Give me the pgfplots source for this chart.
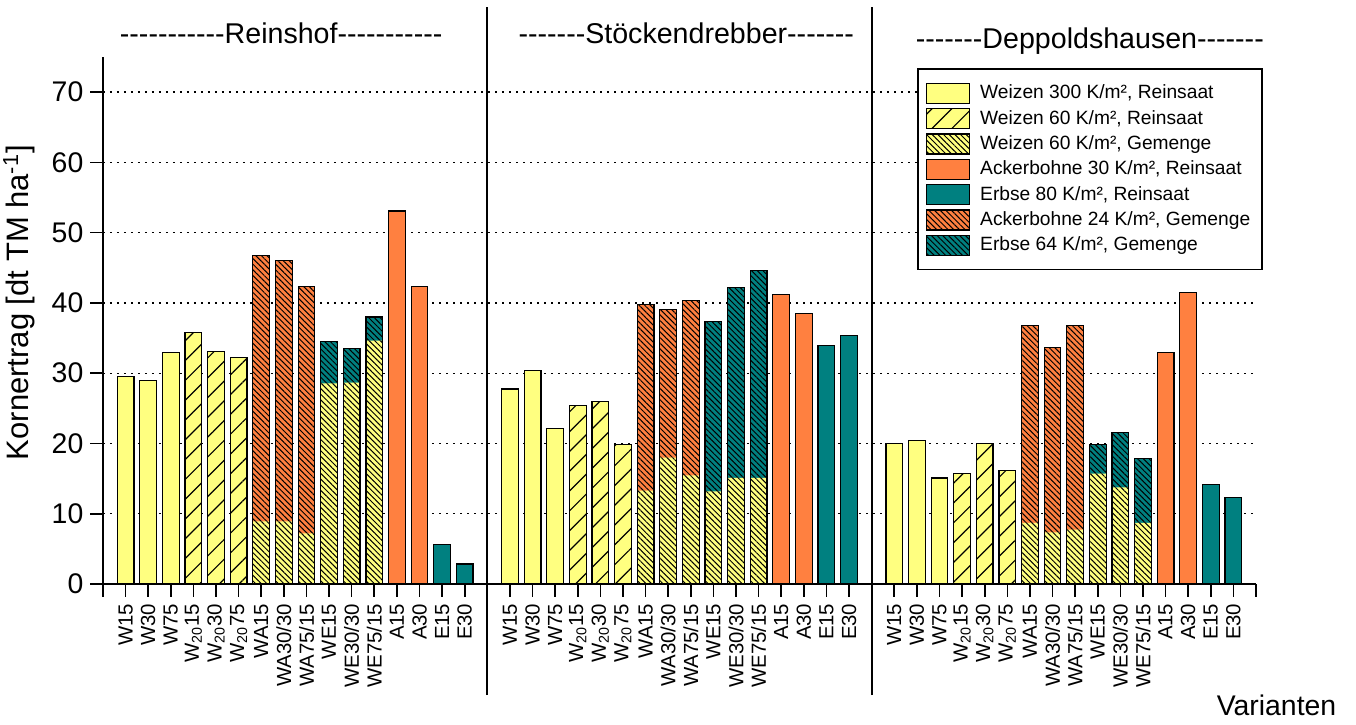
\documentclass[border=0pt]{standalone}
\usepackage{pgfplots}
\pgfplotsset{compat=1.18}
\usepackage{pgfplotstable}
\usepackage{fontspec}
\setmainfont{Liberation Sans}
\newfontfamily\titlefont{Liberation Sans}[Ligatures=TeXOff]
\usetikzlibrary{patterns.meta}

\definecolor{wheat}{RGB}{255,255,128}
\definecolor{bean}{RGB}{255,128,64}
\definecolor{pea}{RGB}{0,128,128}

% x positions: Reinshof 0-15, Stoeckendrebber 17-32, Deppoldshausen 34-49
\pgfplotstableread{
x y
0 29.5
1 29.0
2 32.9
17 27.75
18 30.4
19 22.15
34 19.95
35 20.4
36 15.1
}\wdreihundert
\pgfplotstableread{
x y
3 35.85
4 33.05
5 32.25
20 25.4
21 25.95
22 19.9
37 15.7
38 20.0
39 16.1
}\wsechzig
% wheat share in the mixtures (lower part of the bar)
\pgfplotstableread{
x y
6 8.9
7 8.9
8 7.2
9 28.55
10 28.65
11 34.65
23 13.3
24 18.0
25 15.45
26 13.2
27 15.1
28 15.1
40 8.7
41 7.35
42 7.75
43 15.7
44 13.75
45 8.7
}\wgemenge
\pgfplotstableread{
x y
12 53.1
13 42.3
29 41.25
30 38.45
46 33.0
47 41.5
}\abrein
\pgfplotstableread{
x y
14 5.65
15 2.85
31 33.95
32 35.4
48 14.15
49 12.35
}\erein
% mixtures: total bar height
\pgfplotstableread{
x y
6 46.8
7 46.0
8 42.3
23 39.75
24 39.1
25 40.4
40 36.8
41 33.65
42 36.8
}\abgemenge
\pgfplotstableread{
x y
9 34.5
10 33.5
11 38.0
26 37.4
27 42.2
28 44.6
43 19.9
44 21.6
45 17.9
}\egemenge

\newcommand{\legbox}[1]{\addlegendimage{legend image code/.code={\draw[#1] (0pt,-5pt) rectangle (21.5pt,5pt); \path (24.5pt,0pt);}}}

\begin{document}
\begin{tikzpicture}[
  dense/.style={postaction={pattern={Lines[angle=-45,distance=2pt,line width=0.5pt]},pattern color=black}},
  sparse/.style={postaction={pattern={Lines[angle=45,distance=7pt,line width=0.6pt]},pattern color=black}}
  ]
\begin{axis}[
  name=ax,
  scale only axis,
  width=576.5pt, height=263.5pt,
  xmin=-1, xmax=50, ymin=0, ymax=75,
  axis x line=bottom, axis y line=left,
  axis line style={-, line width=1pt},
  tick align=outside, major tick length=6.3pt,
  tick style={black, line width=0.8pt},
  xtick={-1,...,50},
  xticklabels={,W15,W30,W75,{W\textsubscript{20}15},{W\textsubscript{20}30},{W\textsubscript{20}75},WA15,WA30/30,WA75/15,WE15,WE30/30,WE75/15,A15,A30,E15,E30,
    ,W15,W30,W75,{W\textsubscript{20}15},{W\textsubscript{20}30},{W\textsubscript{20}75},WA15,WA30/30,WA75/15,WE15,WE30/30,WE75/15,A15,A30,E15,E30,
    ,W15,W30,W75,{W\textsubscript{20}15},{W\textsubscript{20}30},{W\textsubscript{20}75},WA15,WA30/30,WA75/15,WE15,WE30/30,WE75/15,A15,A30,E15,E30,},
  xticklabel style={rotate=90, anchor=east, font=\fontsize{10.2}{12}\selectfont},
  ytick={0,10,...,70},
  yticklabel style={font=\fontsize{14.2}{16}\selectfont},
  /pgf/number format/assume math mode=true,
  ymajorgrids,
  major grid style={black, line width=0.7pt, dash pattern=on 0.9pt off 2.6pt},
  ylabel={Kornertrag [dt TM ha\textsuperscript{-1}]},
  ylabel style={at={(axis description cs:-0.0529,0.534)}, anchor=south, font=\fontsize{15.5}{18}\selectfont},
  xlabel={Varianten},
  xlabel style={at={(axis description cs:1.0178,-0.2486)}, anchor=base, font=\fontsize{14.2}{17}\selectfont},
  legend style={at={(axis description cs:0.706,0.979)}, anchor=north west,
    draw=black, line width=0.8pt, font=\fontsize{9.6}{11}\selectfont,
    row sep=0.2pt, inner xsep=4pt, inner ysep=6pt},
  legend cell align=left,
  clip=false,
  mybar/.style={ybar, bar width=0.74, bar shift=0pt, forget plot, line width=0.6pt},
  ]

\legbox{fill=wheat, draw=black, line width=0.6pt}
\addlegendentry{Weizen 300 K/m², Reinsaat}
\legbox{fill=wheat, draw=black, line width=0.6pt, sparse}
\addlegendentry{Weizen 60 K/m², Reinsaat}
\legbox{fill=wheat, draw=black, line width=0.6pt, dense}
\addlegendentry{Weizen 60 K/m², Gemenge}
\legbox{fill=bean, draw=black, line width=0.6pt}
\addlegendentry{Ackerbohne 30 K/m², Reinsaat}
\legbox{fill=pea, draw=black, line width=0.6pt}
\addlegendentry{Erbse 80 K/m², Reinsaat}
\legbox{fill=bean, draw=black, line width=0.6pt, dense}
\addlegendentry{Ackerbohne 24 K/m², Gemenge}
\legbox{fill=pea, draw=black, line width=0.6pt, dense}
\addlegendentry{Erbse 64 K/m², Gemenge}

\addplot[mybar, fill=wheat, draw=black] table[x=x,y=y] {\wdreihundert};
\addplot[mybar, fill=wheat, draw=black, sparse] table[x=x,y=y] {\wsechzig};
\addplot[mybar, fill=bean, draw=black] table[x=x,y=y] {\abrein};
\addplot[mybar, fill=pea, draw=black] table[x=x,y=y] {\erein};
\addplot[mybar, fill=bean, draw=none, dense] table[x=x,y=y] {\abgemenge};
\addplot[mybar, fill=pea, draw=none, dense] table[x=x,y=y] {\egemenge};
\addplot[mybar, fill=wheat, draw=none, dense] table[x=x,y=y] {\wgemenge};
\addplot[mybar, fill=none, draw=black] table[x=x,y=y] {\abgemenge};
\addplot[mybar, fill=none, draw=black] table[x=x,y=y] {\egemenge};

\draw[line width=1pt] (axis cs:16,-15.8) -- (axis cs:16,82.1);
\draw[line width=1pt] (axis cs:33,-15.8) -- (axis cs:33,82.1);

\node[anchor=base, font=\titlefont\fontsize{14.3}{17}\selectfont] at (axis cs:6.88,76.97) {-----------Reinshof-----------};
\node[anchor=base, font=\titlefont\fontsize{14.3}{17}\selectfont] at (axis cs:24.8,76.97) {-------Stöckendrebber-------};
\node[anchor=base, font=\titlefont\fontsize{14.3}{17}\selectfont] at (axis cs:42.65,76.25) {-------Deppoldshausen-------};
\end{axis}
\pgfresetboundingbox
\path (ax.south west) +(-51.5pt,-70pt) rectangle +(626.5pt,292pt);
\end{tikzpicture}
\end{document}
